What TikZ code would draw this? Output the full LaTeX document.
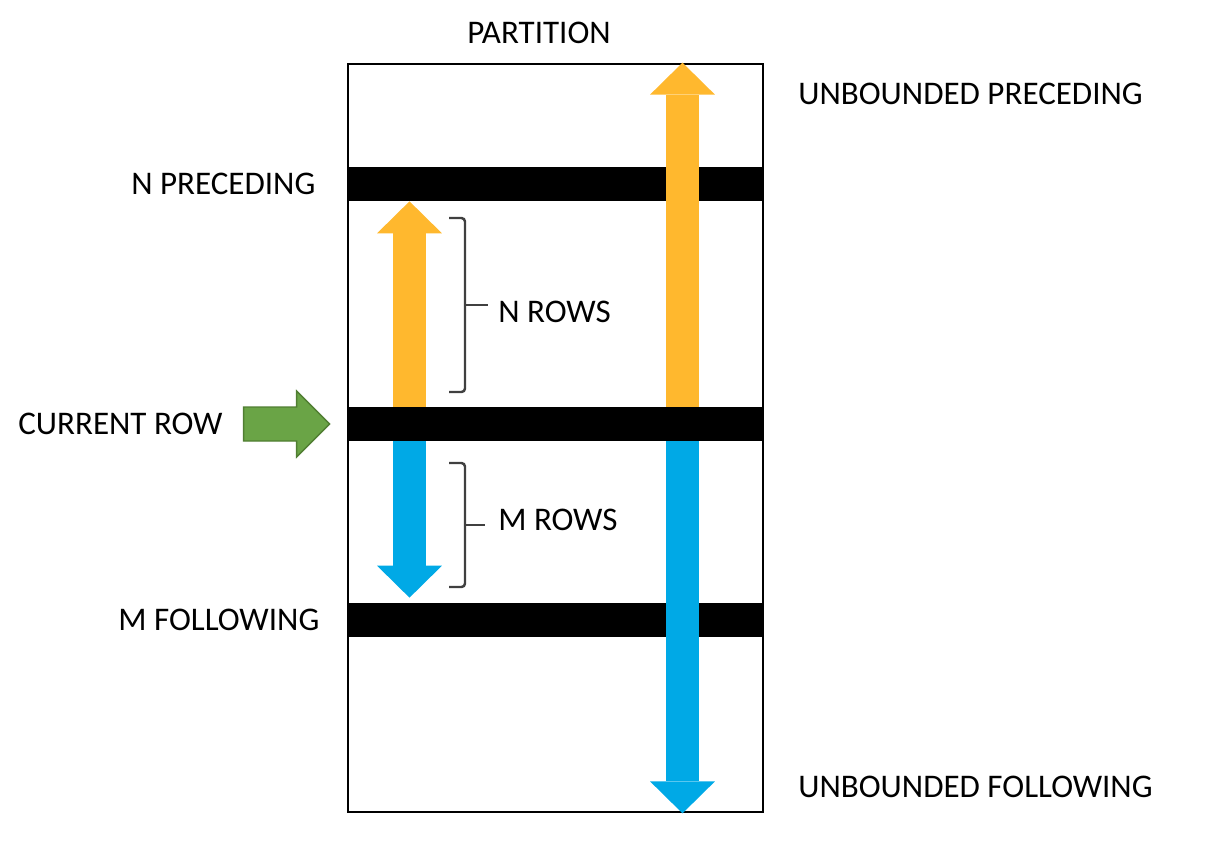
\documentclass[tikz,border=0pt]{standalone}
\usepackage{fontspec}
\setmainfont{Carlito}
\usetikzlibrary{arrows.meta, positioning}
\definecolor{rowOrange}{HTML}{FFB82E}
\definecolor{rowBlue}{HTML}{00A9E6}
\definecolor{rowGreen}{HTML}{6AA446}
\definecolor{rowGreenDark}{HTML}{507E32}
\definecolor{braceGray}{HTML}{404040}

\begin{document}
\begin{tikzpicture}[
  x=0.02cm, y=-0.02cm,
  every node/.style={inner sep=0pt, font=\fontsize{18.8}{22}\selectfont},
  band/.style={rectangle, fill=black, minimum width=8.3cm, minimum height=0.68cm},
  uparrow/.style={line width=0.66cm, rowOrange, -{Triangle[length=0.64cm, width=1.3cm, line width=0pt]}},
  downarrow/.style={line width=0.66cm, rowBlue, -{Triangle[length=0.64cm, width=1.3cm, line width=0pt]}},
  brace/.style={braceGray, line width=1.4pt, rounded corners=2pt}
]
\useasboundingbox (0,0) rectangle (1232,846);

\node (part) [draw, line width=1.6pt, minimum width=8.3cm, minimum height=14.96cm] at (555.5,438) {};
\node (nprec) [band] at (555.5,184) {};
\node (cur) [band] at (555.5,424) {};
\node (mfol) [band] at (555.5,620) {};

\coordinate (nearx) at (409.5,0);
\coordinate (farx) at (682.5,0);
\coordinate (nearend) at ([yshift=0.1cm]mfol.north);

\draw[uparrow] (cur.north -| nearx) -- (nprec.south -| nearx);
\draw[uparrow] (cur.north -| farx) -- (part.north -| farx);
\draw[downarrow] (cur.south -| nearx) -- (nearend -| nearx);
\draw[downarrow] (cur.south -| farx) -- (part.south -| farx);

% current row pointer
\coordinate (gtip) at ([xshift=-0.36cm]cur.west);
\filldraw[fill=rowGreen, draw=rowGreenDark, line width=0.8pt] (gtip) -- ++(-33,-33) -- ++(0,16) -- ++(-53,0) -- ++(0,34) -- ++(53,0) -- ++(0,16) -- cycle;

% braces
\draw[brace] (449,218) -- (465,218) -- (465,392) -- (449,392);
\draw[brace] (465,305) -- (488,305);
\draw[brace] (449,463) -- (465,463) -- (465,587) -- (449,587);
\draw[brace] (465,525) -- (485,525);

\node (partlbl) at (539,33) {PARTITION};
\node (uplbl) [anchor=west] at (798,94) {UNBOUNDED PRECEDING};
\node (downlbl) [anchor=west] at (798,787) {UNBOUNDED FOLLOWING};
\node (npreclbl) [left=0.64cm of nprec.west] {N PRECEDING};
\node (mfollbl) [left=0.56cm of mfol.west] {M FOLLOWING};
\node (curlbl) [anchor=west] at (18,424) {CURRENT ROW};
\node (nrows) [anchor=west] at (498,312) {N ROWS};
\node (mrows) [anchor=west] at (498,520) {M ROWS};
\end{tikzpicture}
\end{document}
